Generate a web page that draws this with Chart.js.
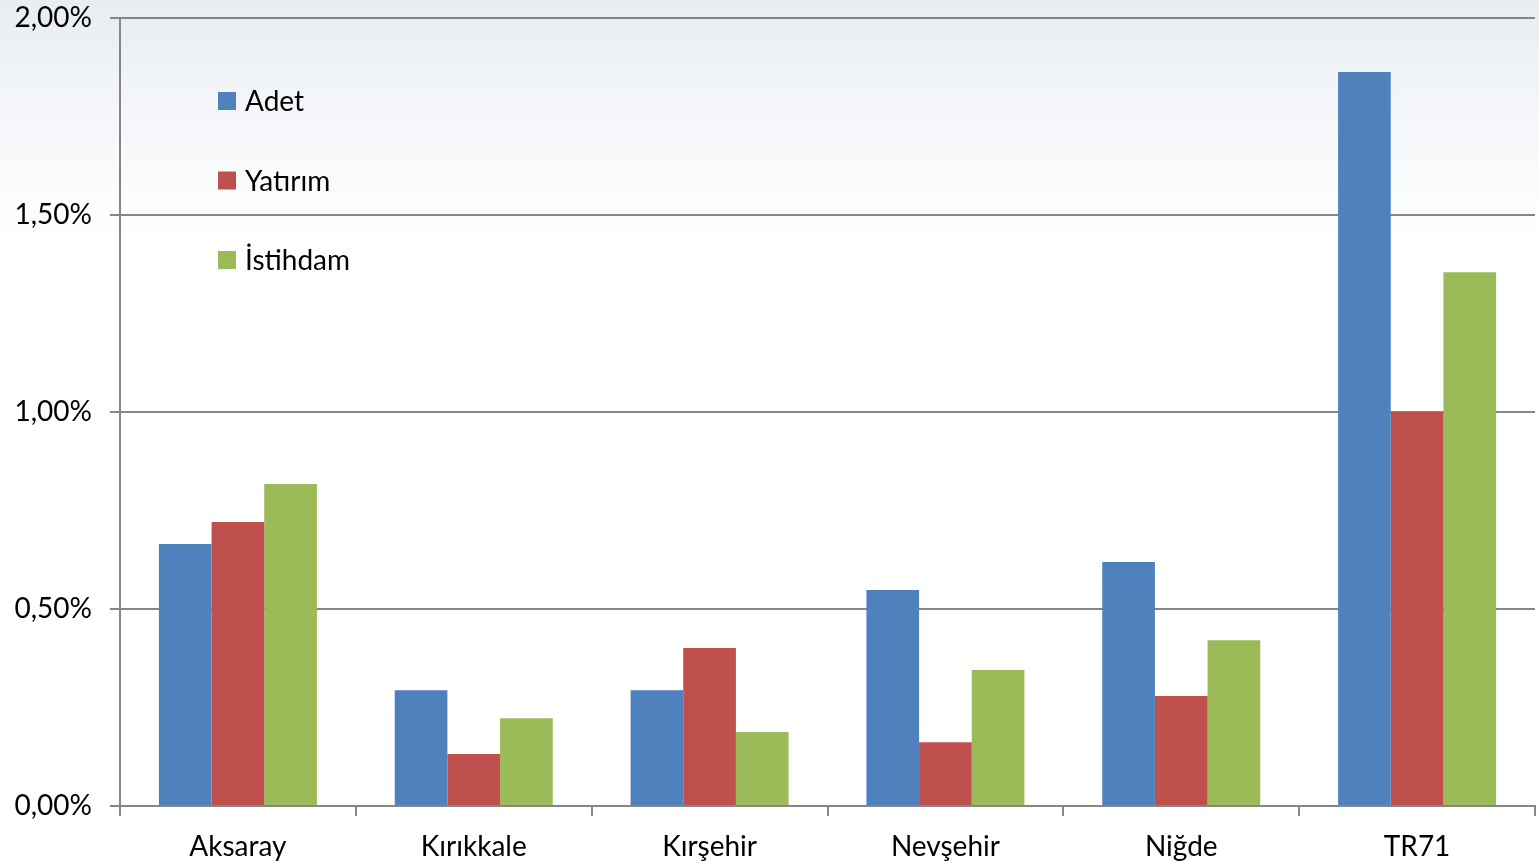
<!DOCTYPE html>
<html>
<head>
<meta charset="utf-8">
<script src="https://cdn.jsdelivr.net/npm/chart.js@4/dist/chart.umd.min.js"></script>
<style>
  html, body { margin: 0; padding: 0; background: #fff; }
  #wrap { width: 1539px; height: 867px; }
</style>
</head>
<body>
<div id="wrap"><canvas id="oranChart"></canvas></div>
<script>
var categories = ['Aksaray', 'Kırıkkale', 'Kırşehir', 'Nevşehir', 'Niğde', 'TR71'];
var seriesNames = ['Adet', 'Yatırım', 'İstihdam'];
var adet = [0.665, 0.294, 0.294, 0.548, 0.619, 1.863];
var yatirim = [0.721, 0.132, 0.401, 0.162, 0.279, 1.000];
var istihdam = [0.817, 0.223, 0.188, 0.345, 0.421, 1.355];
var colors = ['#4F81BD', '#C0504D', '#9BBB59'];

var fontFamily = 'Lato, "Open Sans", sans-serif';

// soft grey-blue wash at the top of the slide
var bgPlugin = {
    id: 'bgWash',
    beforeDraw: function(chart) {
        var ctx = chart.ctx;
        var g = ctx.createLinearGradient(0, 0, 0, 240);
        g.addColorStop(0, '#e8edf3');
        g.addColorStop(0.45, '#f4f6f9');
        g.addColorStop(1, '#ffffff');
        ctx.save();
        ctx.fillStyle = g;
        ctx.fillRect(0, 0, chart.width, chart.height);
        ctx.restore();
    }
};

// legend drawn inside the plot, stacked vertically
var innerLegend = {
    id: 'innerLegend',
    afterDatasetsDraw: function(chart) {
        var ctx = chart.ctx;
        var area = chart.chartArea;
        ctx.save();
        ctx.font = '28px ' + fontFamily;
        ctx.textBaseline = 'middle';
        chart.data.datasets.forEach(function(ds, i) {
            var y = area.top + 83 + i * 79.5;
            ctx.fillStyle = ds.backgroundColor;
            ctx.fillRect(area.left + 98, y - 9, 18, 18);
            ctx.fillStyle = '#000';
            ctx.fillText(ds.label, area.left + 125, y + 1);
        });
        ctx.restore();
    }
};

var datasets = [adet, yatirim, istihdam].map(function(vals, i) {
    return {
        label: seriesNames[i],
        data: vals,
        backgroundColor: colors[i],
        borderWidth: 0,
        categoryPercentage: 0.67,
        barPercentage: 1.0
    };
});

new Chart(document.getElementById('oranChart').getContext('2d'), {
    type: 'bar',
    data: { labels: categories, datasets: datasets },
    plugins: [bgPlugin, innerLegend],
    options: {
        responsive: true,
        maintainAspectRatio: false,
        animation: false,
        layout: { padding: { top: 18, right: 4, left: 0, bottom: 0 } },
        plugins: {
            legend: { display: false },
            tooltip: { enabled: false }
        },
        scales: {
            x: {
                offset: true,
                grid: {
                    offset: true,
                    drawOnChartArea: false,
                    drawTicks: true,
                    tickLength: 10,
                    color: '#868686',
                    lineWidth: 2
                },
                border: { color: '#868686', width: 2 },
                ticks: {
                    color: '#000',
                    padding: 14,
                    font: { family: fontFamily, size: 28 }
                },
                afterFit: function(scale) { scale.height = 61; }
            },
            y: {
                min: 0,
                max: 2,
                grid: {
                    color: '#868686',
                    lineWidth: 2,
                    tickLength: 10
                },
                border: { color: '#868686', width: 2 },
                ticks: {
                    stepSize: 0.5,
                    color: '#000',
                    padding: 18,
                    font: { family: fontFamily, size: 28 },
                    callback: function(v) {
                        return v.toFixed(2).replace('.', ',') + '%';
                    }
                },
                afterFit: function(scale) {
                    scale.width = 120;
                    scale.paddingTop = 0;
                    scale.paddingBottom = 0;
                }
            }
        }
    }
});
</script>
</body>
</html>
